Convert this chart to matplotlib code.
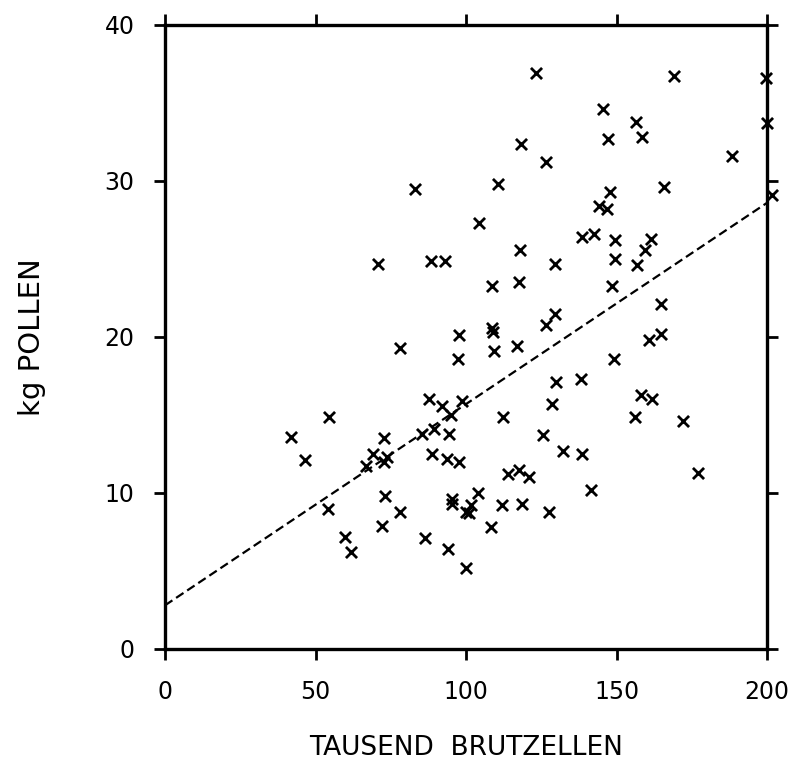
import matplotlib
matplotlib.use("Agg")
import matplotlib.pyplot as plt

brutzellen = [123.2, 169.2, 199.6, 145.6, 156.4, 158.4, 147.3, 118.2, 200.1, 126.5,
              188.5, 110.7, 165.9, 147.8, 201.5, 144.2, 147.0, 104.3, 138.4, 142.5,
              149.4, 161.4, 159.5, 117.9, 149.5, 156.9, 129.5, 108.7, 117.6, 148.4,
              129.6, 126.7, 164.7, 108.5, 109.0, 83.1, 70.7, 88.3, 93.0, 97.7,
              78.0, 97.3, 54.5, 41.8, 46.4, 87.7, 92.1, 98.8, 94.9, 89.4,
              94.4, 85.3, 72.8, 69.2, 66.7, 73.9, 72.8, 88.8, 93.8, 97.7,
              73.1, 54.2, 78.0, 72.2, 59.8, 61.9, 86.4, 94.1, 95.4, 95.4,
              99.9, 99.9, 164.7, 160.8, 109.3, 117.1, 149.0, 129.8, 138.1, 158.0,
              161.9, 128.5, 112.3, 156.1, 172.1, 125.7, 132.2, 138.4, 177.2, 114.0,
              117.6, 121.0, 141.4, 104.1, 101.6, 101.0, 111.9, 118.7, 127.6, 108.2]
pollen = [36.9, 36.7, 36.6, 34.6, 33.8, 32.8, 32.7, 32.4, 33.7, 31.2,
          31.6, 29.8, 29.6, 29.3, 29.1, 28.4, 28.2, 27.3, 26.4, 26.6,
          26.2, 26.3, 25.6, 25.6, 25.0, 24.6, 24.7, 23.3, 23.5, 23.3,
          21.5, 20.8, 22.1, 20.6, 20.3, 29.5, 24.7, 24.9, 24.9, 20.1,
          19.3, 18.6, 14.9, 13.6, 12.1, 16.0, 15.6, 15.9, 15.0, 14.1,
          13.8, 13.8, 13.5, 12.5, 11.7, 12.3, 12.0, 12.5, 12.2, 12.0,
          9.8, 9.0, 8.8, 7.9, 7.2, 6.2, 7.1, 6.4, 9.6, 9.3,
          8.8, 5.2, 20.2, 19.8, 19.1, 19.4, 18.6, 17.1, 17.3, 16.3,
          16.0, 15.7, 14.9, 14.9, 14.6, 13.7, 12.7, 12.5, 11.3, 11.2,
          11.5, 11.0, 10.2, 10.0, 9.2, 8.7, 9.2, 9.3, 8.8, 7.8]

line_x = [0, 200]
line_y = [2.8, 28.6]

xticks = [0, 50, 100, 150, 200]
yticks = [0, 10, 20, 30, 40]

plt.rcParams['font.family'] = ['DejaVu Sans']

fig = plt.figure(figsize=(7.96, 7.62), dpi=100)
ax = fig.add_axes([0.2073, 0.1483, 0.7563, 0.8189])

ax.plot(line_x, line_y, color='black', linestyle=(0, (4, 2)), linewidth=1.6)
ax.scatter(brutzellen, pollen, marker='x', s=64, color='black', linewidths=2.0,
           clip_on=False, zorder=3)

ax.set_xlim(0, 200)
ax.set_ylim(0, 40)
ax.set_xticks(xticks)
ax.set_yticks(yticks)
ax.set_xticklabels([str(t) for t in xticks], fontsize=17)
ax.set_yticklabels([str(t) for t in yticks], fontsize=17)

for s in ax.spines.values():
    s.set_linewidth(2.4)

ax.tick_params(axis='both', which='major', direction='out', length=8, width=2,
               top=True, right=True, labeltop=False, labelright=False)
ax.tick_params(axis='x', pad=14)
ax.tick_params(axis='y', pad=14)

ax.set_xlabel('TAUSEND  BRUTZELLEN', fontsize=19, labelpad=23)
ax.set_ylabel('kg POLLEN', fontsize=21, labelpad=42)

fig.savefig('out.png', dpi=100)
